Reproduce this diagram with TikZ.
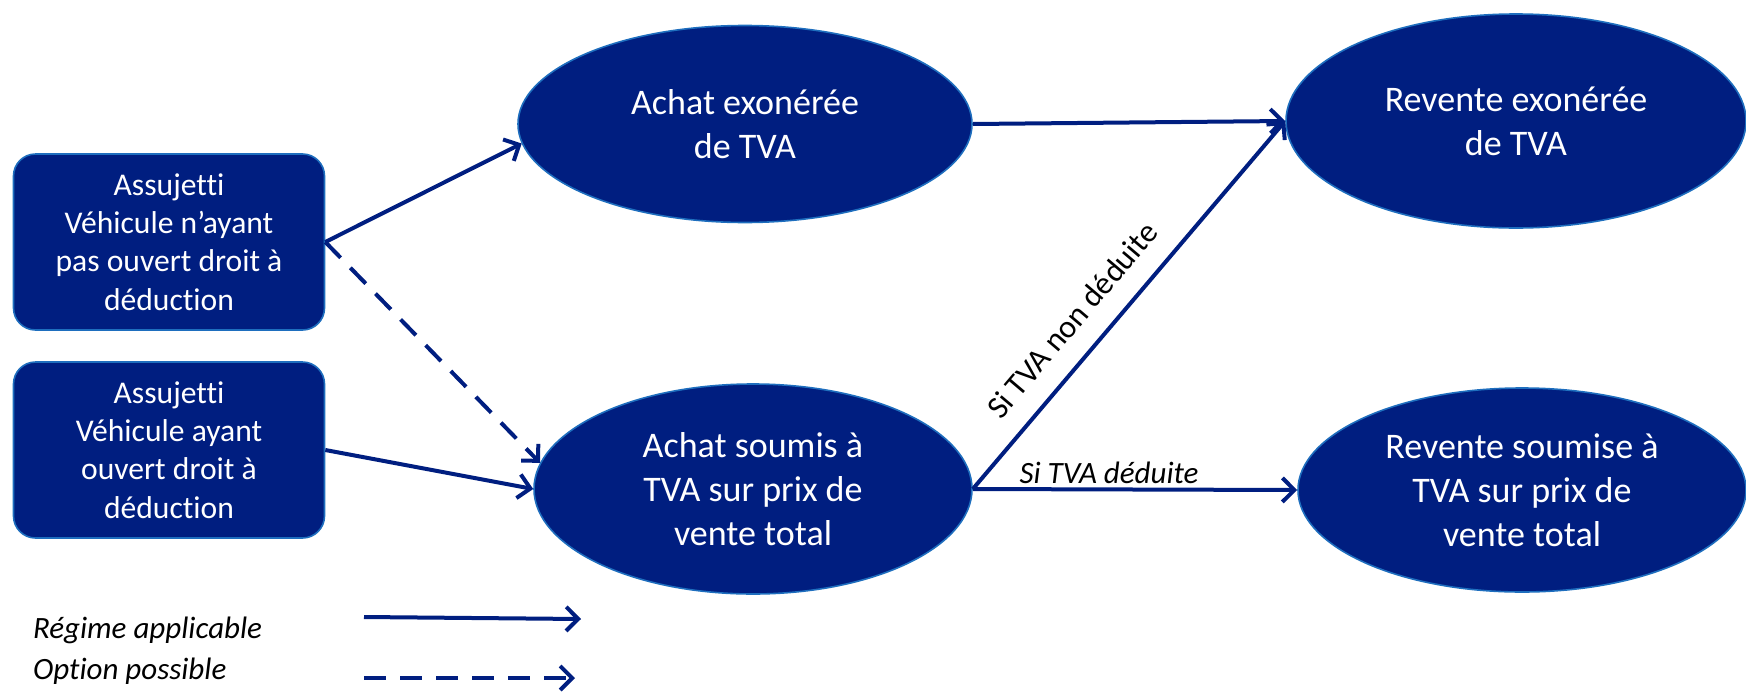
\documentclass[tikz,border=0pt]{standalone}
\usepackage{fontspec}
\setmainfont{Carlito}[Ligatures=NoCommon]
\usetikzlibrary{shapes.geometric,arrows.meta}
\definecolor{navy}{RGB}{0,30,128}
\definecolor{rim}{RGB}{30,110,190}
\begin{document}
\begin{tikzpicture}[x=0.5pt,y=-0.5pt,
    oval/.style={ellipse,draw=rim,line width=0.8pt,fill=navy,text=white,inner sep=0pt,align=center,font=\fontsize{18}{22}\selectfont},
    case/.style={rectangle,rounded corners=11pt,draw=rim,line width=0.8pt,fill=navy,text=white,minimum width=155.5pt,minimum height=88pt,align=center,font=\fontsize{15.8}{19.2}\selectfont},
    flow/.style={draw=navy,line width=2pt,-{Straight Barb[length=6pt,width=12pt]}},
    opt/.style={flow,dash pattern=on 11pt off 7pt},
    note/.style={font=\fontsize{15.5}{19}\selectfont\itshape}]
  \useasboundingbox (0,0) rectangle (1746,691);
  % situations de depart
  \node[case] (nodeduc) at (169,242) {Assujetti\\V\'ehicule n'ayant\\pas ouvert droit \`a\\d\'eduction};
  \node[case] (deduc) at (169,450) {Assujetti\\V\'ehicule ayant\\ouvert droit \`a\\d\'eduction};
  % achats et reventes
  \node[oval,minimum width=227pt,minimum height=98.5pt] (achexo) at (745,124) {Achat exon\'er\'ee\\de TVA};
  \node[oval,minimum width=219pt,minimum height=105pt] (achsou) at (753,489) {Achat soumis \`a\\TVA sur prix de\\vente total};
  \node[oval,minimum width=230pt,minimum height=107pt] (revexo) at (1516,121) {Revente exon\'er\'ee\\de TVA};
  \node[oval,minimum width=224pt,minimum height=102pt] (revsou) at (1522,490) {Revente soumise \`a\\TVA sur prix de\\vente total};
  \draw[flow] (nodeduc.east) -- (achexo.185);
  \draw[opt] (nodeduc.east) -- (achsou.173);
  \draw[flow] (deduc.east) -- (achsou.west);
  \draw[flow] (achexo.east) -- (revexo.west);
  \draw[flow] (achsou.east) -- node[sloped,above=7pt,pos=0.40,font=\fontsize{16}{19}\selectfont] {Si TVA non d\'eduite} (revexo.west);
  \draw[flow] (achsou.east) -- node[note,above,pos=0.42,inner sep=2pt] {Si TVA d\'eduite} (revsou.west);
  % legende
  \node[note,anchor=west] (leg1) at (26,630) {R\'egime applicable};
  \node[note,anchor=west] (leg2) at (26,671) {Option possible};
  \coordinate (s1) at (364,617); \coordinate (e1) at (581,619);
  \coordinate (s2) at (364,678); \coordinate (e2) at (575,678);
  \draw[flow] (s1) -- (e1);
  \draw[opt] (s2) -- (e2);
\end{tikzpicture}
\end{document}
